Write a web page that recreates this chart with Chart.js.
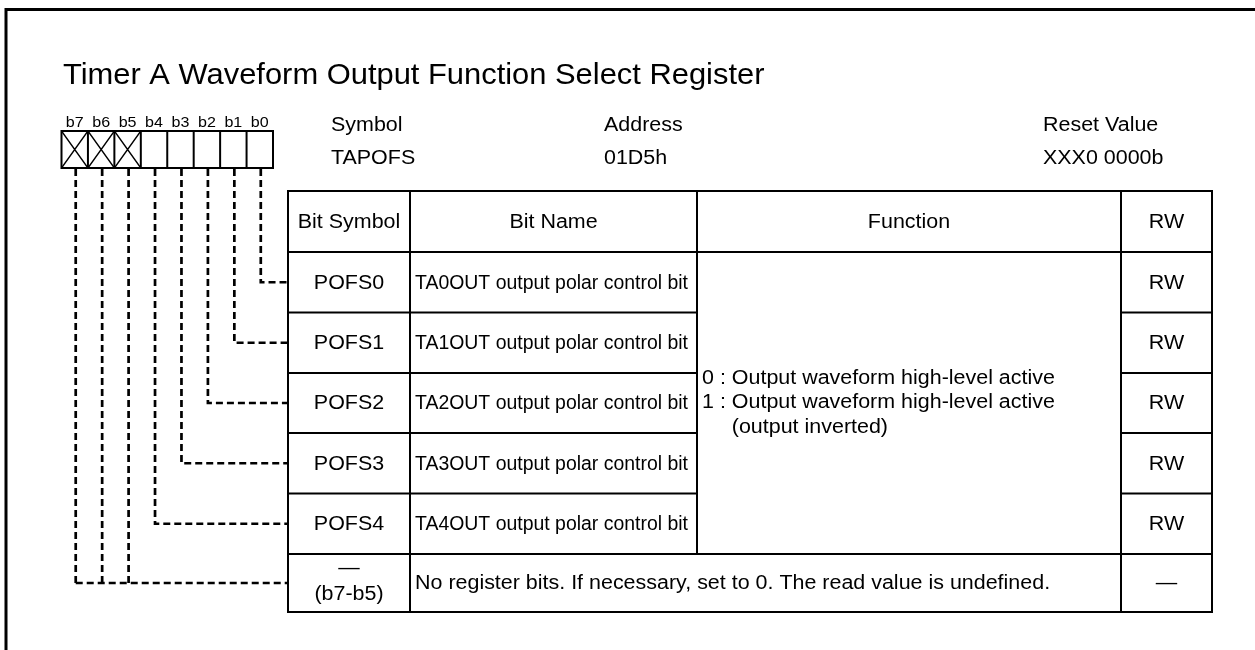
<!DOCTYPE html>
<html>
<head>
<meta charset="utf-8">
<script src="https://cdn.jsdelivr.net/npm/chart.js@4/dist/chart.umd.min.js"></script>
<style>
  html, body { margin: 0; padding: 0; background: #ffffff; }
  #wrap { width: 1255px; height: 650px; }
</style>
</head>
<body>
<div id="wrap"><canvas id="c" width="1255" height="650"></canvas></div>
<script>
// ---------- DATA ----------
const titleText = 'Timer A Waveform Output Function Select Register';
const bits = ['b7', 'b6', 'b5', 'b4', 'b3', 'b2', 'b1', 'b0'];
const reservedBits = ['b7', 'b6', 'b5'];
const infoLabels = ['Symbol', 'Address', 'Reset Value'];
const infoValues = ['TAPOFS', '01D5h', 'XXX0 0000b'];
const headerCols = ['Bit Symbol', 'Bit Name', 'Function', 'RW'];
const bitSymbols = ['POFS0', 'POFS1', 'POFS2', 'POFS3', 'POFS4'];
const bitNames = [
  'TA0OUT output polar control bit',
  'TA1OUT output polar control bit',
  'TA2OUT output polar control bit',
  'TA3OUT output polar control bit',
  'TA4OUT output polar control bit'
];
const rowBits = ['b0', 'b1', 'b2', 'b3', 'b4'];
const rwValues = ['RW', 'RW', 'RW', 'RW', 'RW'];
const functionLines = [
  '0 : Output waveform high-level active',
  '1 : Output waveform high-level active',
  '     (output inverted)'
];
const reservedSymbol = ['—', '(b7-b5)'];
const reservedText = 'No register bits. If necessary, set to 0. The read value is undefined.';
const reservedRW = '—';

// ---------- LAYOUT (positions in scale units) ----------
const FONT = '"Liberation Sans", Arial, sans-serif';
const L = {
  frameX: 6, frameY: 9.5,
  titleX: 63, titleY: 83.5, titleSize: 29, titleStretch: 1.065,
  boxX0: 61.5, boxX1: 273, boxY0: 131, boxY1: 168,
  bitLabelY: 126.5, bitLabelSize: 15, bitLabelStretch: 1.07,
  infoX: [331, 604, 1043], infoY1: 131, infoY2: 164,
  textSize: 19.5, stretch: 1.1,
  cols: [288, 410, 697, 1121, 1212],
  rows: [191, 252, 312.5, 373, 433, 493.5, 554, 612],
  funcLine: 24.5
};

function txt(ctx, t, x, y, size, align, sx, maxW) {
  ctx.font = size + 'px ' + FONT;
  let scale = sx;
  const w = ctx.measureText(t).width * sx;
  if (maxW && w > maxW) scale = sx * maxW / w;
  ctx.save();
  ctx.translate(x, y);
  ctx.scale(scale, 1);
  ctx.textAlign = align;
  ctx.fillText(t, 0, 0);
  ctx.restore();
}

const tablePlugin = {
  id: 'registerTable',
  beforeDraw(chart) {
    const ctx = chart.ctx;
    ctx.save();
    ctx.fillStyle = '#ffffff';
    ctx.fillRect(0, 0, chart.width, chart.height);
    ctx.restore();
  },
  afterDraw(chart) {
    const ctx = chart.ctx;
    const xs = chart.scales.x, ys = chart.scales.y;
    const X = v => xs.getPixelForValue(v);
    const Y = v => ys.getPixelForValue(v);
    const S = L.textSize, K = L.stretch;
    ctx.save();
    ctx.strokeStyle = '#000';
    ctx.fillStyle = '#000';

    // frame (left + top)
    ctx.lineWidth = 3;
    ctx.beginPath();
    ctx.moveTo(X(L.frameX), Y(650));
    ctx.lineTo(X(L.frameX), Y(L.frameY));
    ctx.lineTo(X(1255), Y(L.frameY));
    ctx.stroke();

    // title
    ctx.textBaseline = 'alphabetic';
    txt(ctx, titleText, X(L.titleX), Y(L.titleY), L.titleSize, 'left', L.titleStretch);

    // bit boxes
    const cw = (L.boxX1 - L.boxX0) / bits.length;
    const cx = i => L.boxX0 + cw * (i + 0.5);
    bits.forEach((b, i) => txt(ctx, b, X(cx(i)), Y(L.bitLabelY), L.bitLabelSize, 'center', L.bitLabelStretch));
    ctx.lineWidth = 2;
    ctx.strokeRect(X(L.boxX0), Y(L.boxY0), X(L.boxX1) - X(L.boxX0), Y(L.boxY1) - Y(L.boxY0));
    for (let i = 1; i < bits.length; i++) {
      ctx.beginPath();
      ctx.moveTo(X(L.boxX0 + cw * i), Y(L.boxY0));
      ctx.lineTo(X(L.boxX0 + cw * i), Y(L.boxY1));
      ctx.stroke();
    }
    ctx.lineWidth = 1.3;
    bits.forEach((b, i) => {
      if (reservedBits.includes(b)) {
        const x0 = L.boxX0 + cw * i, x1 = x0 + cw;
        ctx.beginPath();
        ctx.moveTo(X(x0), Y(L.boxY0)); ctx.lineTo(X(x1), Y(L.boxY1));
        ctx.moveTo(X(x1), Y(L.boxY0)); ctx.lineTo(X(x0), Y(L.boxY1));
        ctx.stroke();
      }
    });

    // info texts
    infoLabels.forEach((t, i) => txt(ctx, t, X(L.infoX[i]), Y(L.infoY1), S, 'left', K));
    infoValues.forEach((t, i) => txt(ctx, t, X(L.infoX[i]), Y(L.infoY2), S, 'left', K));

    // connectors (dashed)
    const rowMid = r => (L.rows[r] + L.rows[r + 1]) / 2;
    ctx.lineWidth = 2.7;
    ctx.setLineDash([7, 4]);
    rowBits.forEach((b, r) => {
      const x = cx(bits.indexOf(b)) + 1;
      const y = rowMid(r + 1);
      ctx.beginPath();
      ctx.moveTo(X(x), Y(L.boxY1 + 1));
      ctx.lineTo(X(x), Y(y));
      ctx.lineTo(X(L.cols[0]), Y(y));
      ctx.stroke();
    });
    const resY = rowMid(rowBits.length + 1);
    reservedBits.forEach(b => {
      const x = cx(bits.indexOf(b)) + 1;
      ctx.beginPath();
      ctx.moveTo(X(x), Y(L.boxY1 + 1));
      ctx.lineTo(X(x), Y(resY));
      ctx.stroke();
    });
    ctx.beginPath();
    ctx.moveTo(X(cx(bits.indexOf(reservedBits[0])) + 1), Y(resY));
    ctx.lineTo(X(L.cols[0]), Y(resY));
    ctx.stroke();
    ctx.setLineDash([]);

    // table grid
    const C = L.cols, R = L.rows;
    ctx.lineWidth = 2;
    ctx.strokeRect(X(C[0]), Y(R[0]), X(C[4]) - X(C[0]), Y(R[R.length - 1]) - Y(R[0]));
    const line = (x0, y0, x1, y1) => {
      ctx.beginPath(); ctx.moveTo(X(x0), Y(y0)); ctx.lineTo(X(x1), Y(y1)); ctx.stroke();
    };
    line(C[1], R[0], C[1], R[7]);
    line(C[2], R[0], C[2], R[6]);
    line(C[3], R[0], C[3], R[7]);
    line(C[0], R[1], C[4], R[1]);
    for (let r = 2; r <= 6; r++) {
      if (r < 6) {
        line(C[0], R[r], C[2], R[r]);
        line(C[3], R[r], C[4], R[r]);
      } else {
        line(C[0], R[r], C[4], R[r]);
      }
    }

    // header text
    ctx.textBaseline = 'middle';
    headerCols.forEach((h, i) => txt(ctx, h, X((C[i] + C[i + 1]) / 2), Y((R[0] + R[1]) / 2 + 1), S, 'center', K));

    // data rows
    bitSymbols.forEach((s, r) => {
      const y = Y(rowMid(r + 1) + 1);
      txt(ctx, s, X((C[0] + C[1]) / 2), y, S, 'center', K);
      txt(ctx, rwValues[r], X((C[3] + C[4]) / 2), y, S, 'center', K);
      txt(ctx, bitNames[r], X(C[1] + 5), y, S, 'left', K, X(C[2] - 9) - X(C[1] + 5));
    });

    // function text (merged cell)
    const fMid = (R[1] + R[6]) / 2;
    functionLines.forEach((t, i) => {
      txt(ctx, t, X(C[2] + 5), Y(fMid + (i - 1) * L.funcLine), S, 'left', K);
    });

    // reserved row
    const ry = rowMid(6);
    txt(ctx, reservedSymbol[0], X((C[0] + C[1]) / 2), Y(ry - 14), S, 'center', K);
    txt(ctx, reservedSymbol[1], X((C[0] + C[1]) / 2), Y(ry + 12), S, 'center', K);
    txt(ctx, reservedRW, X((C[3] + C[4]) / 2), Y(ry + 1), S, 'center', K);
    txt(ctx, reservedText, X(C[1] + 5), Y(ry + 1), S, 'left', K);

    ctx.restore();
  }
};

new Chart(document.getElementById('c'), {
  type: 'scatter',
  data: { datasets: [] },
  options: {
    responsive: false,
    animation: false,
    layout: { padding: 0 },
    plugins: { legend: { display: false }, tooltip: { enabled: false } },
    scales: {
      x: { type: 'linear', min: 0, max: 1255, display: false },
      y: { type: 'linear', min: 0, max: 650, reverse: true, display: false }
    }
  },
  plugins: [tablePlugin]
});
</script>
</body>
</html>
